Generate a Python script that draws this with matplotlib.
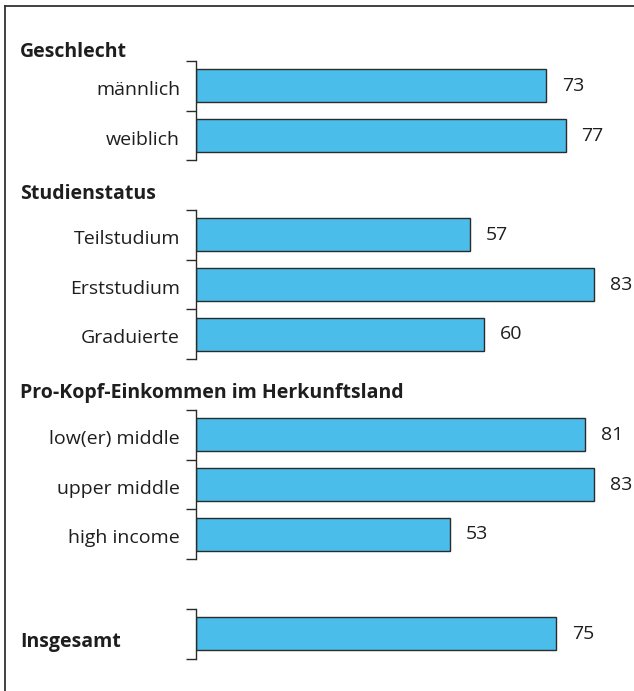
import matplotlib.pyplot as plt
from matplotlib.lines import Line2D
from matplotlib.transforms import ScaledTranslation, blended_transform_factory

plt.rcParams['font.family'] = ['Open Sans', 'DejaVu Sans']

# Data (percent)
groups = ["Geschlecht", "Studienstatus", "Pro-Kopf-Einkommen im Herkunftsland", "Insgesamt"]
cats_geschlecht = ["männlich", "weiblich"]
vals_geschlecht = [73, 77]
cats_status = ["Teilstudium", "Erststudium", "Graduierte"]
vals_status = [57, 83, 60]
cats_einkommen = ["low(er) middle", "upper middle", "high income"]
vals_einkommen = [81, 83, 53]
cats_gesamt = [""]
vals_gesamt = [75]

W, H = 634, 691
bar_color = "#4bbdeb"
edge_color = "#2b2b2b"
text_color = "#1e1e1e"

fig = plt.figure(figsize=(W / 100, H / 100), dpi=100)

# pixel helpers
def fx(px):
    return px / W

def fy(py):
    return 1 - py / H

x0 = 196            # left edge of bars in px
px_per_unit = 4.8
step = 49.7         # px per category row

# (categories, values, top pixel, header baseline pixel)
layout = [
    (cats_geschlecht, vals_geschlecht, 61, 57),
    (cats_status, vals_status, 210, 199),
    (cats_einkommen, vals_einkommen, 410, 398),
    (cats_gesamt, vals_gesamt, 609, 647),
]

label_offset = ScaledTranslation(-16 / 100, -4 / 100, fig.dpi_scale_trans)

for (cats, vals, top, head_y), title in zip(layout, groups):
    n = len(cats)
    h = n * step
    ax = fig.add_axes([fx(x0), fy(top + h), fx(W - x0), h / H])
    ypos = list(range(n))
    ax.barh(ypos, vals, height=0.665, color=bar_color, edgecolor=edge_color, linewidth=1.0)
    ax.set_xlim(0, (W - x0) / px_per_unit)
    ax.set_ylim(n - 0.5, -0.5)
    for y, v in zip(ypos, vals):
        ax.text(v + 3.3, y, str(v), va="center", ha="left", fontsize=14, color=text_color)
    # category labels, a little below the bar centre like the original
    trans = blended_transform_factory(ax.transAxes, ax.transData) + label_offset
    for y, c in zip(ypos, cats):
        ax.text(0, y, c, transform=trans, ha="right", va="center",
                fontsize=14, color=text_color)
    # bracket-style axis: ticks at row boundaries
    ax.set_yticks([i - 0.5 for i in range(n + 1)])
    ax.set_yticklabels([])
    ax.tick_params(axis="y", which="major", length=7, width=1.0, color=edge_color)
    ax.set_xticks([])
    for s in ["top", "right", "bottom"]:
        ax.spines[s].set_visible(False)
    ax.spines["left"].set_color(edge_color)
    ax.spines["left"].set_linewidth(1.0)
    ax.patch.set_alpha(0)
    fig.text(fx(20), fy(head_y), title, fontsize=14, fontweight="bold",
             color=text_color, va="baseline", ha="left")

# outer frame (top and left edges visible)
fig.add_artist(Line2D([fx(5), fx(5)], [fy(6), 0], color="#333333", lw=1.3))
fig.add_artist(Line2D([fx(5), 1], [fy(6), fy(6)], color="#333333", lw=1.3))

fig.savefig("out.png", dpi=100)
